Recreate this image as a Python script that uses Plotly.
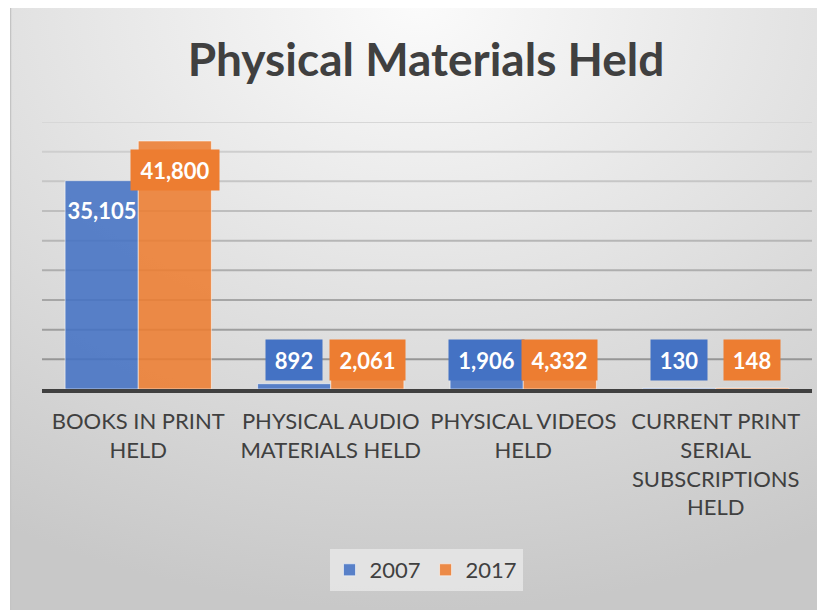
import base64
import plotly.graph_objects as go

# ---------------- data ----------------
categories = [
    "BOOKS IN PRINT<br>HELD",
    "PHYSICAL AUDIO<br>MATERIALS HELD",
    "PHYSICAL VIDEOS<br>HELD",
    "CURRENT PRINT<br>SERIAL<br>SUBSCRIPTIONS<br>HELD",
]
series_names = ["2007", "2017"]
values_2007 = [35105, 892, 1906, 130]
values_2017 = [41800, 2061, 4332, 148]
title_text = "Physical Materials Held"
y_max = 45000
grid_step = 5000

# ---------------- styles ----------------
OFF = 8  # page body margin offset
W, H = 825 - OFF, 610 - OFF
L, R, T, B = 42 - OFF, 13, 122 - OFF, 221
plot_w = W - L - R
plot_h = H - T - B
BLUE, ORANGE = "#4472C4", "#ED7D31"
BAR_FILL = ["rgba(68,114,196,0.88)", "rgba(237,125,49,0.88)"]
TEXT = "#404040"
FONT = "Lato"
BARGAP = 0.24

fig = go.Figure()
series = [values_2007, values_2017]
for name, vals, fill in zip(series_names, series, BAR_FILL):
    fig.add_trace(go.Bar(
        name=name, x=categories, y=vals,
        marker=dict(color=fill, line=dict(color="rgba(255,255,255,0.55)", width=1)),
    ))

# data labels (boxed, Excel-like)
bar_w = (1 - BARGAP) / 2
px_per_unit = plot_h / y_max
colors = [BLUE, ORANGE]
for s, vals in enumerate(series):
    for i, v in enumerate(vals):
        txt = f"{v:,}"
        digits = sum(c.isdigit() for c in txt)
        commas = txt.count(",")
        box_w = 17 + 13 * digits + 6 * commas
        xpos = i + (s - 0.5) * bar_w
        bg = colors[s]
        if v * px_per_unit > 60:
            ann = dict(y=v, yanchor="top", yshift=-8)
            if s == 0:
                bg = "rgba(0,0,0,0)"
        else:
            ann = dict(y=0, yanchor="bottom", yshift=8)
        fig.add_annotation(
            x=xpos, xref="x", yref="y", text=f"<b>{txt}</b>", showarrow=False,
            font=dict(family=FONT, size=22, color="white"),
            bgcolor=bg, width=box_w, height=40, borderpad=0,
            xanchor="center", **ann,
        )

# gridlines, darker toward the bottom
grid_vals = list(range(grid_step, y_max + 1, grid_step))
n = len(grid_vals)
for k, gv in enumerate(grid_vals):
    t = k / (n - 1)
    c = int(150 + (215 - 150) * t)
    fig.add_shape(type="line", xref="paper", x0=0, x1=1, yref="y", y0=gv, y1=gv,
                  line=dict(color=f"rgb({c},{c},{c})", width=2), layer="below")

# background radial gradient (top-centre light)
svg = (
    "<svg xmlns='http://www.w3.org/2000/svg' width='815' height='605' viewBox='0 0 815 605' preserveAspectRatio='none'>"
    "<defs><radialGradient id='g' cx='0.5' cy='0' r='1' gradientUnits='objectBoundingBox'>"
    "<stop offset='0' stop-color='#fbfbfb'/><stop offset='1' stop-color='#c8c8c8'/>"
    "</radialGradient></defs>"
    "<rect x='0' y='0' width='815' height='605' fill='url(#g)'/>"
    "<line x1='0.5' y1='0' x2='0.5' y2='605' stroke='#c4c4c4' stroke-width='1.5'/>"
    "<line x1='0' y1='1' x2='815' y2='1' stroke='#c4c4c4' stroke-width='2'/>"
    "</svg>"
)
src = "data:image/svg+xml;base64," + base64.b64encode(svg.encode()).decode()
img_left, img_top = 10 - OFF, 4 - OFF
fig.add_layout_image(
    source=src, xref="paper", yref="paper",
    x=(img_left - L) / plot_w, y=1 + (T - img_top) / plot_h,
    sizex=(W - img_left) / plot_w, sizey=(H - img_top) / plot_h,
    xanchor="left", yanchor="top", sizing="stretch", layer="below",
)

cx = 426 - OFF
fig.update_layout(
    width=W, height=H,
    margin=dict(l=L, r=R, t=T, b=B, pad=0),
    paper_bgcolor="white", plot_bgcolor="rgba(0,0,0,0)",
    barmode="group", bargap=BARGAP, bargroupgap=0,
    title=dict(text=title_text, x=cx / W, xanchor="center", y=1 - (60 - OFF) / H, yanchor="middle",
               yref="container", xref="container",
               font=dict(family=FONT, size=46, color=TEXT, weight="bold")),
    legend=dict(orientation="h", x=(cx - L) / plot_w, xanchor="center",
                y=-(570 - OFF - (T + plot_h)) / plot_h, yanchor="middle",
                font=dict(family=FONT, size=22, color=TEXT),
                bgcolor="rgba(232,232,232,0.8)", itemwidth=30),
    showlegend=True,
)
fig.update_xaxes(showline=True, linecolor=TEXT, linewidth=4, showgrid=False,
                 ticks="", ticklabelstandoff=10,
                 tickfont=dict(family=FONT, size=22, color=TEXT))
fig.update_yaxes(range=[0, y_max], showgrid=False, showticklabels=False,
                 zeroline=False, showline=False)

fig.write_html("out.html")
